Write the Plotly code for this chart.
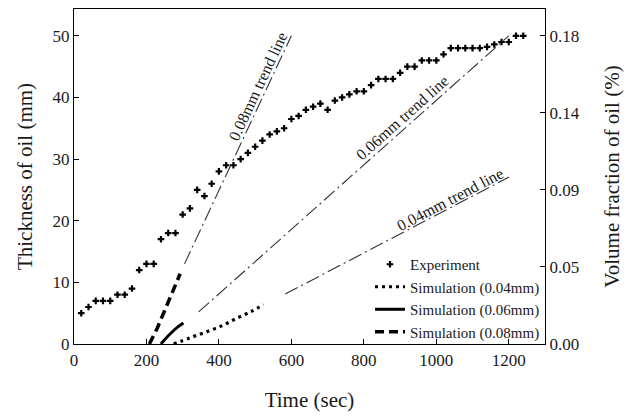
import plotly.graph_objects as go

# ---------------- data ----------------
exp_time = [20, 40, 60, 80, 100, 120, 140, 160, 180, 200, 220, 240, 260, 280, 300,
            320, 340, 360, 380, 400, 420, 440, 460, 480, 500, 520, 540, 560, 580, 600,
            620, 640, 660, 680, 700, 720, 740, 760, 780, 800, 820, 840, 860, 880, 900,
            920, 940, 960, 980, 1000, 1020, 1040, 1060, 1080, 1100, 1120, 1140, 1160,
            1180, 1200, 1220, 1240]
exp_thick = [5, 6, 7, 7, 7, 8, 8, 9, 12, 13, 13, 17, 18, 18, 21,
             22, 25, 24, 26, 28, 29, 29, 30, 31, 32, 33, 34, 34.5, 35, 36.5,
             37, 38, 38.5, 39, 38, 39.5, 40, 40.5, 41, 41, 42, 43, 43, 43, 44,
             45, 45, 46, 46, 46, 47, 48, 48, 48, 48, 48, 48.2, 48.6,
             49, 49, 50, 50]

sim04_time = [275, 320, 367, 410, 450, 490, 523]
sim04_thick = [0, 1.0, 2.0, 3.0, 4.2, 5.3, 6.4]

sim06_time = [240, 255, 270, 285, 302]
sim06_thick = [0, 1.0, 1.9, 2.7, 3.4]

sim08_time = [208, 230, 250, 270, 293]
sim08_thick = [0, 2.6, 5.4, 8.3, 11.4]

trend08_time = [305, 600]
trend08_thick = [13, 50]
trend06_time = [344, 1200]
trend06_thick = [5.2, 50]
trend04_time = [583, 1201]
trend04_thick = [8.1, 27.1]

x_ticks = [0, 200, 400, 600, 800, 1000, 1200]
y_ticks = [0, 10, 20, 30, 40, 50]
y2_ticks = [0, 0.045, 0.09, 0.135, 0.18]
y2_labels = ["0.00", "0.05", "0.09", "0.14", "0.18"]

# trend labels: text, x, y, angle
trend_labels = [("0.08mm trend line", 507, 41.8, -65),
                ("0.06mm trend line", 906, 36.8, -41.8),
                ("0.04mm trend line", 1037, 23.5, -27.7)]

FONT = "Liberation Serif, Times New Roman, serif"
INK = "#1a1a1a"
Y_TOP = 54.35
VOL_PER_MM = 0.0036

fig = go.Figure()

fig.add_trace(go.Scatter(x=exp_time, y=exp_thick, mode="markers", name="Experiment",
                         marker=dict(symbol="cross", size=5.5, color="black",
                                     line=dict(width=0))))
fig.add_trace(go.Scatter(x=sim04_time, y=sim04_thick, mode="lines",
                         name="Simulation (0.04mm)",
                         line=dict(color="black", width=3.2, dash="3px,4px", shape="spline")))
fig.add_trace(go.Scatter(x=sim06_time, y=sim06_thick, mode="lines",
                         name="Simulation (0.06mm)",
                         line=dict(color="black", width=3, shape="spline")))
fig.add_trace(go.Scatter(x=sim08_time, y=sim08_thick, mode="lines",
                         name="Simulation (0.08mm)",
                         line=dict(color="black", width=3.5, dash="9px,5px")))

for tx, ty in [(trend08_time, trend08_thick), (trend06_time, trend06_thick),
               (trend04_time, trend04_thick)]:
    fig.add_trace(go.Scatter(x=tx, y=ty, mode="lines", showlegend=False,
                             hoverinfo="skip",
                             line=dict(color="#333333", width=1.1,
                                       dash="14px,4px,2px,4px")))

# dummy trace to activate the right axis
fig.add_trace(go.Scatter(x=[None], y=[None], yaxis="y2", showlegend=False,
                         hoverinfo="skip", mode="lines"))

for text, xx, yy, ang in trend_labels:
    fig.add_annotation(x=xx, y=yy, text=text, textangle=ang, showarrow=False,
                       font=dict(family=FONT, size=16, color=INK))

axis_common = dict(showgrid=False, zeroline=False, showline=True, linecolor="black",
                   linewidth=1.2, ticks="inside", ticklen=5, tickcolor="black",
                   tickfont=dict(family=FONT, size=17, color=INK))

# page body has an 8px default margin, so the figure is shrunk by 8px to fit
fig.update_layout(
    width=629, height=407,
    margin=dict(l=66, r=92, t=1, b=71, autoexpand=False),
    paper_bgcolor="white", plot_bgcolor="white",
    font=dict(family=FONT, color=INK),
    xaxis=dict(range=[0, 1300], tickvals=x_ticks, mirror=True,
               title=dict(text="Time (sec)", font=dict(family=FONT, size=21, color=INK),
                          standoff=23),
               **axis_common),
    yaxis=dict(range=[0, Y_TOP], tickvals=y_ticks,
               title=dict(text="Thickness of oil (mm)",
                          font=dict(family=FONT, size=21, color=INK), standoff=14),
               **axis_common),
    yaxis2=dict(range=[0, Y_TOP * VOL_PER_MM], tickvals=y2_ticks, ticktext=y2_labels,
                overlaying="y", side="right",
                title=dict(text="Volume fraction of oil (%)",
                           font=dict(family=FONT, size=21, color=INK), standoff=25),
                **axis_common),
    legend=dict(x=1, xanchor="right", y=-0.012, yanchor="bottom",
                bgcolor="rgba(0,0,0,0)", borderwidth=0,
                font=dict(family=FONT, size=15, color=INK),
                tracegroupgap=0),
    showlegend=True,
)

fig.write_html("out.html")
